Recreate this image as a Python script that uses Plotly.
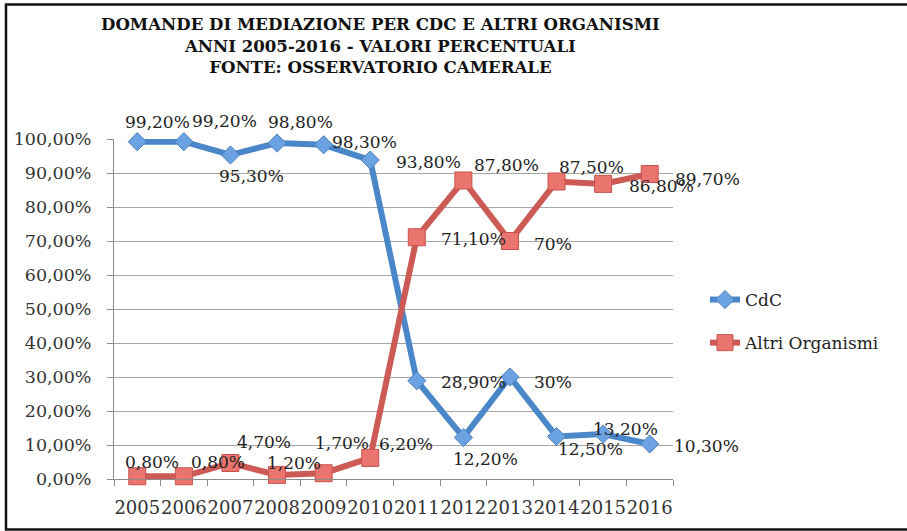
import plotly.graph_objects as go

# ---- data ----
years = ["2005", "2006", "2007", "2008", "2009", "2010",
         "2011", "2012", "2013", "2014", "2015", "2016"]
cdc = [99.2, 99.2, 95.3, 98.8, 98.3, 93.8, 28.9, 12.2, 30.0, 12.5, 13.2, 10.3]
altri = [0.8, 0.8, 4.7, 1.2, 1.7, 6.2, 71.1, 87.8, 70.0, 87.5, 86.8, 89.7]
y_ticks = [0, 10, 20, 30, 40, 50, 60, 70, 80, 90, 100]
title_lines = ["DOMANDE DI MEDIAZIONE PER CDC E ALTRI ORGANISMI",
               "ANNI 2005-2016 - VALORI PERCENTUALI",
               "FONTE: OSSERVATORIO CAMERALE"]

# ---- label placement (pixel offsets: right, down) ----
cdc_off = [(20, -20), (41, -21), (21, 21), (23, -21), (41, -3), (58, 2),
           (57, 1), (22, 21), (43, 5), (34, 12), (22, -5), (57, 2)]
altri_off = [(15, -14), (34, -14), (34, -21), (17, -12), (18, -30), (36, -14),
             (57, 2), (43, -15), (43, 3), (35, -15), (58, 2), (58, 5)]


def fmt(v, always_dec=False):
    if float(v).is_integer() and not always_dec:
        return f"{int(v)}%"
    return f"{v:.2f}".replace(".", ",") + "%"


xpos = list(range(len(years)))
bounds = [i - 0.5 for i in range(len(years) + 1)]

W, H = 907, 531
L, R, T, B = 114, 234, 139, 52
PW, PH = W - L - R, H - T - B


def px(x):
    return (x - L) / PW


def py(y):
    return (H - B - y) / PH


BLUE = "#4A87C8"
RED = "#CC5B55"
SERIF = "DejaVu Serif"

fig = go.Figure()
fig.add_trace(go.Scatter(
    x=xpos, y=cdc, name="CdC", mode="lines+markers",
    line=dict(color=BLUE, width=6),
    marker=dict(symbol="diamond", size=14, color="#6AA2E2",
                line=dict(color="#4F81BD", width=1)),
    legendgroup="a", cliponaxis=False))
fig.add_trace(go.Scatter(
    x=xpos, y=altri, name="Altri Organismi", mode="lines+markers",
    line=dict(color=RED, width=6),
    marker=dict(symbol="square", size=17, color="#EA756F",
                line=dict(color="#C9534E", width=1)),
    legendgroup="b", cliponaxis=False))

annotations = []
for series, offs in ((cdc, cdc_off), (altri, altri_off)):
    for xi, v, (dx, dy) in zip(xpos, series, offs):
        annotations.append(dict(
            x=xi, y=v, xref="x", yref="y", text=fmt(v), showarrow=False,
            xshift=dx, yshift=-dy, xanchor="center", yanchor="middle",
            font=dict(family=SERIF, size=17, color="#222222")))

annotations.append(dict(
    x=px(380), y=py(12), xref="paper", yref="paper",
    text="<br>".join(title_lines), showarrow=False,
    xanchor="center", yanchor="top", align="center",
    font=dict(family=SERIF, size=16.6, color="#111111", weight="bold")))

fig.update_layout(
    width=W, height=H,
    margin=dict(l=L, r=R, t=T, b=B, pad=0),
    paper_bgcolor="white", plot_bgcolor="white",
    showlegend=True,
    legend=dict(x=px(705), y=py(282), xanchor="left", yanchor="top",
                font=dict(family=SERIF, size=17, color="#222222"),
                tracegroupgap=18, bgcolor="rgba(0,0,0,0)"),
    annotations=annotations,
    shapes=[dict(type="rect", xref="paper", yref="paper",
                 x0=px(6), x1=px(912), y0=py(529.5), y1=py(4.5),
                 line=dict(color="#111111", width=2.5), layer="above")],
)

fig.update_xaxes(
    range=[bounds[0], bounds[-1]], tickvals=xpos, ticktext=years,
    ticks="", showline=True, linecolor="#8C8C8C", linewidth=1,
    minor=dict(tickvals=bounds, ticks="outside", ticklen=6,
               tickcolor="#8C8C8C", showgrid=False),
    showgrid=False, zeroline=False, tickangle=0, ticklabelstandoff=12,
    tickfont=dict(family=SERIF, size=18, color="#333333"))
fig.update_yaxes(
    range=[0, 100], tickvals=y_ticks,
    ticktext=[fmt(t, always_dec=True) for t in y_ticks],
    ticks="outside", ticklen=6, tickcolor="#8C8C8C",
    showline=True, linecolor="#8C8C8C", linewidth=1,
    showgrid=True, gridcolor="#A6A6A6", gridwidth=1, zeroline=False,
    ticklabelstandoff=12,
    tickfont=dict(family=SERIF, size=17.5, color="#333333"))

fig.write_html("out.html",
               config={"displayModeBar": False},
               post_script="document.body.style.margin='0';"
                           "document.body.style.overflow='hidden';")
